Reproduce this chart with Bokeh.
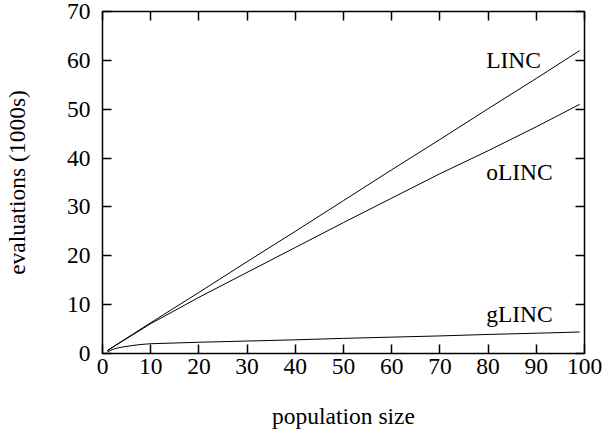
from bokeh.plotting import figure
from bokeh.models import LinearAxis, FixedTicker, Range1d, Label, CustomLabelingPolicy
from bokeh.embed import file_html
from bokeh.resources import INLINE

# ---- data ----
x_lin = [1, 10, 20, 30, 40, 50, 60, 70, 80, 90, 99]
linc = [0.6, 6.3, 12.5, 18.8, 25.0, 31.3, 37.6, 43.8, 50.1, 56.3, 62.0]
olinc = [0.6, 6.1, 11.5, 16.6, 21.7, 26.8, 31.8, 36.8, 41.5, 46.4, 51.0]

x_g = [1, 2, 3, 4, 6, 8, 10, 20, 30, 40, 50, 60, 70, 80, 90, 99]
glinc = [0.3, 0.8, 1.1, 1.3, 1.6, 1.85, 2.0, 2.3, 2.55, 2.8, 3.1, 3.35, 3.6, 3.9, 4.15, 4.4]

x_ticks = [0, 10, 20, 30, 40, 50, 60, 70, 80, 90, 100]
y_ticks = [0, 10, 20, 30, 40, 50, 60, 70]

series_labels = ["LINC", "oLINC", "gLINC"]
label_x = [79.6, 79.6, 79.6]
label_y = [60.0, 37.1, 8.0]

x_title = "population size"
y_title = "evaluations (1000s)"

FONT = "Liberation Serif"
FS = "23.5px"

p = figure(width=607, height=432, output_backend="svg", toolbar_location=None,
           x_range=Range1d(0, 100), y_range=Range1d(0, 70),
           min_border_left=100, min_border_right=23, min_border_top=11, min_border_bottom=79)
p.background_fill_color = "white"
p.border_fill_color = "white"
p.outline_line_color = "black"
p.outline_line_width = 1.5
p.xgrid.visible = False
p.ygrid.visible = False

p.line(x_lin, linc, line_color="black", line_width=1)
p.line(x_lin, olinc, line_color="black", line_width=1)
p.line(x_g, glinc, line_color="black", line_width=1)

def style(ax, labels=True):
    ax.axis_line_color = None
    ax.major_tick_in = 9
    ax.major_tick_out = 0
    ax.minor_tick_line_color = None
    ax.major_tick_line_color = "black"
    ax.major_tick_line_width = 1.5
    ax.major_label_text_font = FONT
    ax.major_label_text_color = "black"
    ax.axis_label_text_font = FONT
    ax.axis_label_text_font_size = FS
    ax.axis_label_text_font_style = "normal"
    ax.axis_label_text_color = "black"
    if labels:
        ax.major_label_text_font_size = FS
    else:
        ax.major_label_text_font_size = "0px"
        ax.major_label_standoff = 0
        ax.major_label_policy = CustomLabelingPolicy(code="if (false) { yield 0 }")

xa = p.xaxis[0]
xa.ticker = FixedTicker(ticks=x_ticks)
xa.axis_label = x_title
style(xa)
xa.major_label_standoff = 5
xa.axis_label_standoff = 26

ya = p.yaxis[0]
ya.ticker = FixedTicker(ticks=y_ticks)
ya.axis_label = y_title
style(ya)
ya.major_label_standoff = 12
ya.axis_label_standoff = 34

top = LinearAxis(ticker=FixedTicker(ticks=x_ticks))
style(top, labels=False)
p.add_layout(top, "above")
right = LinearAxis(ticker=FixedTicker(ticks=y_ticks))
style(right, labels=False)
p.add_layout(right, "right")

for t, lx, ly in zip(series_labels, label_x, label_y):
    p.add_layout(Label(x=lx, y=ly, text=t, text_font=FONT, text_font_size=FS,
                       text_color="black", text_align="left", text_baseline="alphabetic"))

open("out.html", "w").write(file_html(p, INLINE))
